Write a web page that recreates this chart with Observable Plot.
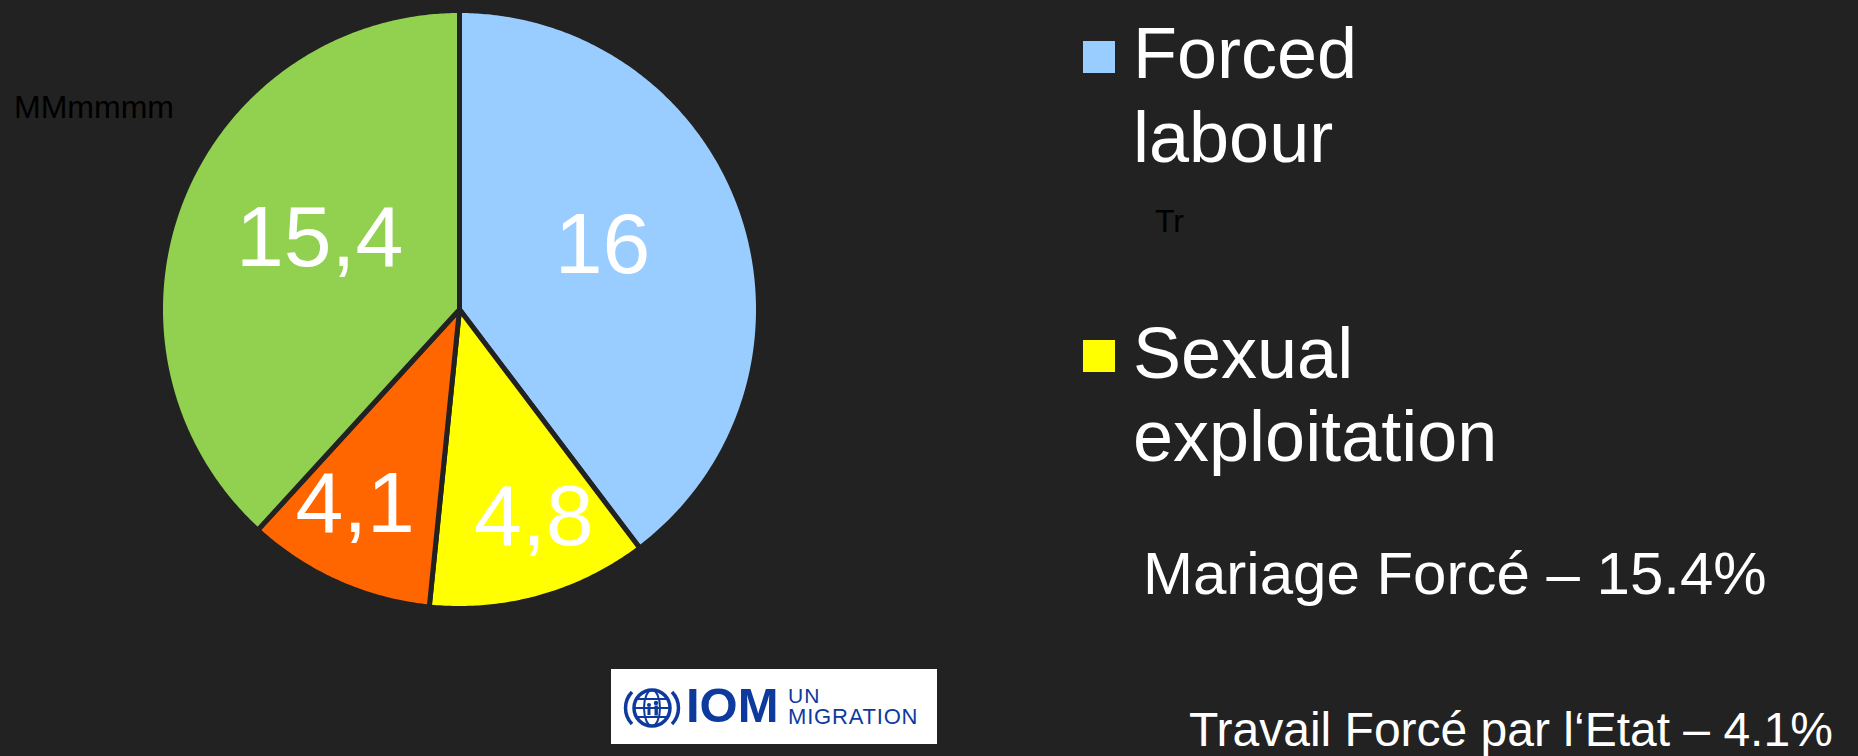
<!DOCTYPE html>
<html>
<head>
<meta charset="utf-8">
<script src="https://cdn.jsdelivr.net/npm/d3@7"></script>
<script src="https://cdn.jsdelivr.net/npm/@observablehq/plot@0.6"></script>
<style>
  html, body { margin: 0; padding: 0; background: #222222; overflow: hidden; }
  #wrap { position: relative; width: 1858px; height: 756px; background: #222222;
          font-family: "Liberation Sans", Arial, sans-serif; }
  .abs { position: absolute; white-space: nowrap; }
  .one { line-height: 1; }
  #pie { position: absolute; left: 159px; top: 9px; }
  .sw { position: absolute; width: 32px; height: 32px; }
  #logo { position: absolute; left: 611px; top: 669px; width: 326px; height: 75px; background: #ffffff; }
  #logo .t { position: absolute; color: #0d3a9c; line-height: 1; font-family: "Liberation Sans", Arial, sans-serif; white-space: nowrap; }
</style>
</head>
<body>
<div id="wrap">
  <div id="pie"></div>

  <div class="abs one" style="left:14px; top:91px; font-size:32px; color:#000;">MMmmmm</div>

  <div class="sw" style="left:1083px; top:41px; background:#99CCFF;"></div>
  <div class="abs" id="lg0" style="left:1133px; top:11px; font-size:72px; line-height:84px; color:#fff;"></div>

  <div class="abs one" style="left:1155px; top:205px; font-size:32px; color:#000;">Tr</div>

  <div class="sw" style="left:1083px; top:340px; background:#FFFF00;"></div>
  <div class="abs" id="lg1" style="left:1133px; top:312px; font-size:72px; line-height:83px; color:#fff;"></div>

  <div class="abs one" id="note0" style="left:1143px; top:544px; font-size:60px; color:#fff;"></div>
  <div class="abs one" id="note1" style="left:1189px; top:706px; font-size:48px; color:#fff;"></div>

  <div id="logo">
    <svg width="72" height="75" style="position:absolute; left:0; top:0;">
      <g fill="none" stroke="#0d3a9c">
        <circle cx="41" cy="39" r="18" stroke-width="3.5"/>
        <ellipse cx="41" cy="39" rx="8" ry="18" stroke-width="2"/>
        <line x1="23" y1="39" x2="59" y2="39" stroke-width="2"/>
        <line x1="26" y1="30" x2="56" y2="30" stroke-width="2"/>
        <line x1="26" y1="48" x2="56" y2="48" stroke-width="2"/>
        <path d="M 21 23 A 23 23 0 0 0 21 55" stroke-width="3.5"/>
        <path d="M 61 23 A 23 23 0 0 1 61 55" stroke-width="3.5"/>
      </g>
      <g fill="#0d3a9c">
        <circle cx="38" cy="36" r="2"/>
        <circle cx="45" cy="34" r="2.2"/>
        <rect x="36.5" y="38" width="3" height="8"/>
        <rect x="43.5" y="36.5" width="3.4" height="10"/>
      </g>
    </svg>
    <div class="t" style="left:75px; top:12px; font-size:49px; font-weight:bold;">IOM</div>
    <div class="t" style="left:177px; top:16px; font-size:21px; letter-spacing:1px;">UN</div>
    <div class="t" style="left:177px; top:37px; font-size:22px; letter-spacing:0.8px;">MIGRATION</div>
  </div>
</div>
<script>
// ---- data ----
const categories = ["Forced labour", "Sexual exploitation", "Travail Forcé par l‘Etat", "Mariage Forcé"];
const values = [16, 4.8, 4.1, 15.4];
const colors = ["#99CCFF", "#FFFF00", "#FF6600", "#92D050"];
const legendLines = [["Forced", "labour"], ["Sexual", "exploitation"]];
const notes = ["Mariage Forcé – 15.4%", "Travail Forcé par l‘Etat – 4.1%"];

// ---- legend / notes text ----
document.getElementById("lg0").innerHTML = legendLines[0].join("<br>");
document.getElementById("lg1").innerHTML = legendLines[1].join("<br>");
document.getElementById("note0").textContent = notes[0];
document.getElementById("note1").textContent = notes[1];

// ---- pie geometry from data ----
const table = categories.map((c, i) => ({cat: c, value: values[i]}));
const arcs = d3.pie().sort(null).value(d => d.value).startAngle(0).endAngle(2 * Math.PI)(table);

const pts = [];
for (const a of arcs) {
  const c = a.data.cat;
  pts.push({cat: c, x: 0, y: 0});
  const n = Math.max(2, Math.ceil((a.endAngle - a.startAngle) / (Math.PI / 360)));
  for (let k = 0; k <= n; k++) {
    const t = a.startAngle + (a.endAngle - a.startAngle) * k / n;
    pts.push({cat: c, x: Math.sin(t), y: Math.cos(t)});
  }
}

// labels: big slices pulled slightly toward the top, small slices spread away from the bottom
const labels = arcs.map(a => {
  const span = a.endAngle - a.startAngle;
  const big = span > Math.PI / 2;
  const m = (a.startAngle + a.endAngle) / 2;
  const shift = big ? (m < Math.PI ? -0.1 : 0.1) : (m < Math.PI ? -0.07 : 0.07);
  const rr = big ? 0.525 : 0.74;
  return {x: rr * Math.sin(m + shift), y: rr * Math.cos(m + shift),
          text: String(a.data.value).replace(".", ",")};
});

const chart = Plot.plot({
  width: 600,
  height: 600,
  margin: 1,
  x: {domain: [-1, 1], axis: null},
  y: {domain: [-1, 1], axis: null},
  color: {domain: categories, range: colors},
  style: {background: "transparent", overflow: "visible"},
  marks: [
    Plot.line(pts, {x: "x", y: "y", z: "cat", fill: "cat", stroke: "#222222", strokeWidth: 5, curve: "linear-closed"}),
    Plot.text(labels, {x: "x", y: "y", text: "text", fill: "white", fontSize: 86,
      fontFamily: "Liberation Sans, Arial, sans-serif"})
  ]
});
document.getElementById("pie").appendChild(chart);
</script>
</body>
</html>
